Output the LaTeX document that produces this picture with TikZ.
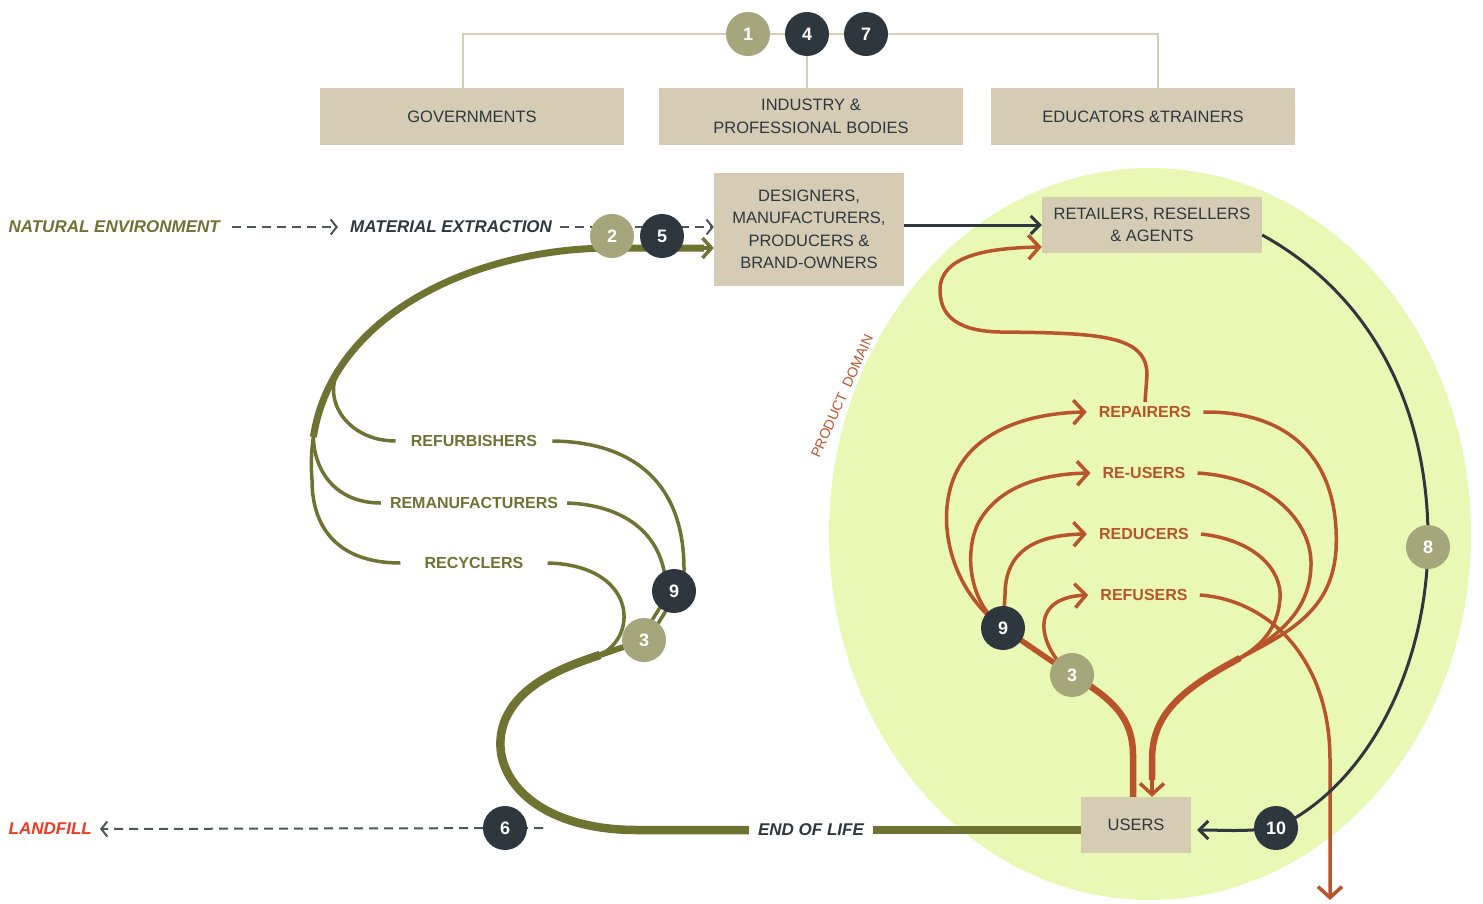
\documentclass[tikz,border=0pt]{standalone}
\usepackage{fontspec}
\setmainfont{Liberation Sans}
\usetikzlibrary{arrows.meta}

\definecolor{boxtan}{HTML}{D6CCB3}
\definecolor{inkdark}{HTML}{2F373E}
\definecolor{badgesage}{HTML}{A5A67C}
\definecolor{flowolive}{HTML}{6E7332}
\definecolor{flowrust}{HTML}{B8532C}
\definecolor{domaingreen}{HTML}{E9F8B5}
\definecolor{landred}{HTML}{EE3A22}
\definecolor{dashgrey}{HTML}{4D545B}

\newcommand{\boxfont}{\fontsize{16.5}{22.5}\selectfont}
\newcommand{\labfont}{\fontsize{16}{19}\selectfont\bfseries}
\newcommand{\flowfont}{\fontsize{17}{19}\selectfont\bfseries\itshape}
\newcommand{\numfont}{\fontsize{18}{20}\selectfont\bfseries}

\begin{document}
\begin{tikzpicture}[x=1pt,y=-1pt,
    tanbox/.style={fill=boxtan, text=inkdark, font=\boxfont, align=center, inner sep=0pt},
    sagebadge/.style={circle, fill=badgesage, text=white, font=\numfont, minimum size=44pt, inner sep=0pt},
    darkbadge/.style={sagebadge, fill=inkdark},
    olivetext/.style={text=flowolive, font=\labfont, inner ysep=4pt},
    rusttext/.style={text=flowrust, font=\labfont, inner xsep=12pt, inner ysep=4pt},
    tieline/.style={draw=boxtan, line width=2.5pt},
    dasharrow/.style={draw=dashgrey, line width=2pt, dash pattern=on 9pt off 6pt, -{Straight Barb[length=6pt,width=15pt]}},
    darkline/.style={draw=inkdark, line width=3pt},
    darkarrow/.style={darkline, -{Straight Barb[length=9pt,width=18pt]}},
    oliveline/.style={draw=flowolive, line width=3.5pt},
    olivetrunk/.style={draw=flowolive, line width=8.5pt},
    rustline/.style={draw=flowrust, line width=3.5pt},
    rusttrunk/.style={draw=flowrust, line width=6.5pt},
    rustarrow/.style={rustline, -{Straight Barb[length=11pt,width=24pt]}},
  ]
  \useasboundingbox (0,0) rectangle (1483,903);

  % Product domain
  \fill[domaingreen] (1150,534) ellipse [x radius=321pt, y radius=366pt];
  \node[text=flowrust, font=\fontsize{14}{16}\selectfont, rotate=66] (domain) at (842,396) {PRODUCT\ \ DOMAIN};

  % Boxes
  \node[tanbox, minimum width=304pt, minimum height=57pt] (gov) at (472,116.5) {GOVERNMENTS};
  \node[tanbox, minimum width=304pt, minimum height=57pt] (ind) at (811,116.5) {INDUSTRY \&\\PROFESSIONAL BODIES};
  \node[tanbox, minimum width=304pt, minimum height=57pt] (edu) at (1143,116.5) {EDUCATORS \&TRAINERS};
  \node[tanbox, minimum width=190pt, minimum height=113pt] (des) at (809,229.5) {DESIGNERS,\\MANUFACTURERS,\\PRODUCERS \&\\BRAND-OWNERS};
  \node[tanbox, minimum width=220pt, minimum height=56pt] (ret) at (1152,225) {RETAILERS, RESELLERS\\\& AGENTS};
  \node[tanbox, minimum width=110pt, minimum height=56pt] (users) at (1136,825) {USERS};

  % Labels
  \node[anchor=east, text=flowolive, font=\flowfont, inner sep=0pt] (natenv) at (220,227) {NATURAL ENVIRONMENT};
  \node[anchor=west, text=inkdark, font=\flowfont, inner sep=0pt] (matex) at (350,227) {MATERIAL EXTRACTION};
  \node[anchor=east, text=landred, font=\flowfont, inner sep=0pt] (landfill) at (92,829) {LANDFILL};
  \node[text=inkdark, font=\flowfont, inner xsep=9pt] (eol) at (811,830) {END OF LIFE};
  \node[olivetext, inner xsep=15pt] (refurb) at (474,441) {REFURBISHERS};
  \node[olivetext, inner xsep=9pt] (reman) at (474,503) {REMANUFACTURERS};
  \node[olivetext, inner xsep=24pt] (recyc) at (474,563) {RECYCLERS};
  \node[rusttext] (repairers) at (1145,412) {REPAIRERS};
  \node[rusttext] (reusers) at (1144,473) {RE-USERS};
  \node[rusttext] (reducers) at (1144,534) {REDUCERS};
  \node[rusttext] (refusers) at (1144,595) {REFUSERS};

  % Junctions
  \coordinate (oj1) at (312,480);
  \coordinate (oj2) at (313.4,437);
  \coordinate (oj3) at (343,364);
  \coordinate (ojb) at (600,655);
  \coordinate (rj) at (1240,658);
  \coordinate (lf0) at (543,828);

  % Governance ties
  \draw[tieline] ([xshift=-9pt]gov.north) |- (807,34) -| ([xshift=15pt]edu.north);
  \draw[tieline] (807,34) -- (807,34 |- ind.north);

  % Linear flow
  \draw[dasharrow, shorten <=12pt, shorten >=12pt] (natenv.east) -- (matex.west);
  \draw[dasharrow, shorten <=8pt] (matex.east) -- (matex.east -| des.west);
  \draw[darkarrow] (des.east |- ret.west) -- (ret.west);
  \draw[dasharrow, shorten >=8pt] (lf0) -- (landfill.east);

  % Olive recovery loops
  \draw[olivetrunk] (eol.east) -- (eol.east -| users.west);
  \draw[olivetrunk] (eol.west) -- (637,830) .. controls (530,830) and (485,770) .. (505,720)
        .. controls (520,685) and (560,668) .. (ojb);
  \draw[oliveline] (ojb) .. controls (640,635) and (635,565) .. (recyc.east);
  \draw[oliveline, line width=6pt] (ojb) -- (644,640);
  \draw[oliveline] (640,640) -- (670,591);
  \draw[oliveline] (648,640) -- (678,591);
  \draw[oliveline] (666,591) .. controls (666,535) and (625,505) .. (reman.east);
  \draw[oliveline] (683,591) .. controls (692,490) and (640,442) .. (refurb.east);
  \draw[oliveline] (recyc.west) .. controls (340,563) and (312,530) .. (oj1)
        .. controls (310.8,465) and (311.3,450.7) .. (oj2);
  \draw[oliveline] (reman.west) .. controls (335,503) and (314,470) .. (oj2);
  \draw[oliveline] (refurb.west) .. controls (345,441) and (318,395) .. (oj3);
  \draw[olivetrunk, line width=7pt] (oj2) .. controls (331.9,314.4) and (475.2,248) .. (612,248) -- (704,248);
  \draw[oliveline, -{Straight Barb[length=9pt,width=20pt]}] (690,248) -- (des.west |- 0,248);

  % Product use loops
  \draw[rustarrow] (repairers.north) -- (1147,375) .. controls (1147,335) and (1100,333) .. (1000,332)
        .. controls (950,331) and (940,310) .. (940,290) .. controls (940,255) and (990,248) .. ([yshift=-22pt]ret.west);
  \draw[rusttrunk] ([xshift=-3pt]users.north) -- (1133,755) .. controls (1133,718) and (1112,698) .. (1072,675);
  \draw[rustline, line width=5.5pt] (1072,675) -- (1003,628);
  \draw[rustarrow] (1003,628) .. controls (950,590) and (935,520) .. (955,475)
        .. controls (975,430) and (1030,413) .. (repairers.west);
  \draw[rustarrow] (1003,628) .. controls (965,600) and (965,545) .. (980,520)
        .. controls (1000,487) and (1040,474) .. (reusers.west);
  \draw[rustarrow] (1003,628) -- (1005,595) .. controls (1005,555) and (1030,535) .. (reducers.west);
  \draw[rustarrow] (1072,675) .. controls (1040,650) and (1025,598) .. (refusers.west);
  \draw[rustline] (repairers.east) .. controls (1300,411) and (1340,470) .. (1336,550)
        .. controls (1332,610) and (1290,632) .. (rj);
  \draw[rustline] (reusers.east) .. controls (1275,478) and (1312,525) .. (1311,565)
        .. controls (1310,610) and (1280,635) .. (rj);
  \draw[rustline] (reducers.east) .. controls (1255,540) and (1282,570) .. (1280,598)
        .. controls (1278,628) and (1262,645) .. (rj);
  \draw[rusttrunk] (rj) .. controls (1180,690) and (1152,715) .. (1152,760) -- (1152,780);
  \draw[rustarrow] (1152,760) -- ([xshift=16pt]users.north);
  \draw[rustarrow] (refusers.east) .. controls (1270,600) and (1330,660) .. (1330,760) -- (1330,900);

  % Supply loop
  \draw[darkline] ([yshift=-10pt]ret.east) .. controls (1380,300) and (1430,420) .. (1428,547)
        .. controls (1425,680) and (1360,790) .. (1276,828);
  \draw[darkarrow] (1276,828) .. controls (1240,832) and (1225,830) .. ([xshift=6pt,yshift=-5pt]users.east);

  % Badges
  \node[sagebadge] (b1) at (748,34) {1};
  \node[darkbadge] (b4) at (807,34) {4};
  \node[darkbadge] (b7) at (866,34) {7};
  \node[sagebadge] (b2) at (612,236) {2};
  \node[darkbadge] (b5) at (662,236) {5};
  \node[darkbadge] (b9l) at (674,591) {9};
  \node[sagebadge] (b3l) at (644,640) {3};
  \node[darkbadge] (b6) at (505,828) {6};
  \node[darkbadge] (b9r) at (1003,628) {9};
  \node[sagebadge] (b3r) at (1072,675) {3};
  \node[sagebadge] (b8) at (1428,547) {8};
  \node[darkbadge] (b10) at (1276,828) {10};
\end{tikzpicture}
\end{document}
